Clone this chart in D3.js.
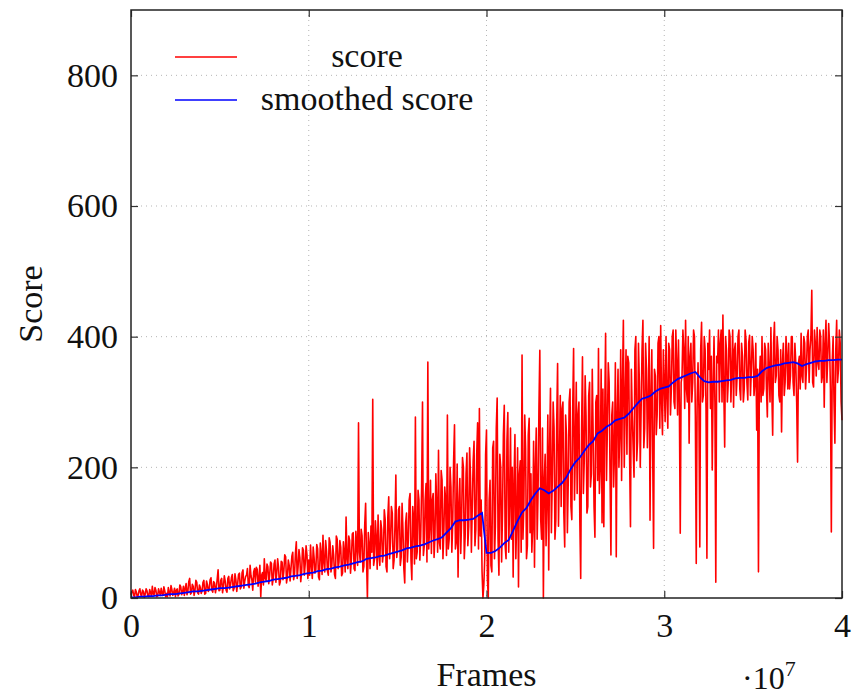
<!DOCTYPE html>
<html>
<head>
<meta charset="utf-8">
<script src="https://cdn.jsdelivr.net/npm/d3@7"></script>
<style>
  body { margin: 0; background: #fff; }
  svg text { font-family: 'Liberation Serif', 'DejaVu Serif', serif; fill: #111; }
  .grid line { stroke: #b5b5b5; stroke-width: 1; stroke-dasharray: 1 4; }
  .axis text { font-family: 'Liberation Serif', 'DejaVu Serif', serif; font-size: 34px; fill: #111; }
  .axis line { stroke: #333; stroke-width: 1.2; }
</style>
</head>
<body>
<div id="chart"></div>
<script>
const WIDTH = 853;
const HEIGHT = 699;
const LEFT = 131;
const RIGHT = 842;
const TOP = 10;
const BOTTOM = 598;

// raw score, one sample every 50k frames
const FRAME_STEP = 5e4;
const scoreValues = [
  5,10, 12,4, 2,13, 9,2, 4,11, 14,5, 3,12, 10,1, 6,14, 11,3,
  2,13, 8,3, 18,6, 5,16, 12,2, 3,14, 9,4, 15,7, 4,17, 11,2,
  7,2, 16,8, 3,19, 13,4, 8,15, 2,12, 14,3, 6,20, 17,5, 9,18,
  4,15, 22,5, 10,25, 30,6, 8,21, 18,4, 12,27, 24,8, 6,20, 16,7,
  11,24, 27,6, 7,26, 20,10, 14,28, 31,12, 9,25, 23,8, 16,29, 43,11,
  12,27, 30,8, 18,34, 26,12, 9,30, 33,14, 20,31, 36,11, 15,37, 28,10,
  22,36, 38,14, 17,39, 43,15, 26,33, 35,45, 19,16, 50,34, 28,12, 40,45,
  24,47, 44,18, 31,50, 2,35, 39,20, 60,30, 27,52, 48,22, 35,55, 53,20,
  30,52, 58,24, 38,60, 47,20, 25,56, 55,28, 42,66, 63,23, 33,58, 50,26,
  45,64, 70,28, 36,68, 86,30, 48,74, 62,25, 40,77, 73,35, 52,80, 66,30,
  58,35, 81,50, 30,78, 62,38, 44,82, 75,32, 28,84, 68,36, 96,55, 40,88,
  72,42, 35,92, 85,40, 50,80, 66,36, 30,95, 90,45, 55,88, 78,34, 38,86,
  70,40, 124,60, 45,95, 88,38, 60,98, 100,45, 42,102, 80,50, 268,70, 55,105,
  95,40, 48,112, 145,60, 0,100, 82,45, 110,70, 304,50, 60,118, 92,44, 127,65,
  50,118, 105,55, 70,135, 120,48, 40,125, 155,60, 85,140, 130,45, 58,110, 188,62,
  75,135, 140,50, 62,145, 105,45, 23,115, 130,55, 88,150, 160,60, 28,140, 120,52,
  277,60, 70,165, 150,58, 95,170, 300,65, 80,150, 175,55, 361,75, 110,180, 68,150,
  160,62, 95,190, 140,70, 226,85, 75,195, 180,60, 100,170, 150,65, 280,75, 90,200,
  170,70, 115,210, 265,75, 85,205, 32,140, 183,68, 120,215, 200,60, 95,190, 222,80,
  110,230, 185,70, 140,210, 240,80, 105,220, 268,75, 290,95, 150,40, 0,20, 60,220,
  257,30, 0,150, 180,50, 40,230, 240,60, 110,260, 306,90, 35,220, 200,55, 130,250,
  295,80, 60,240, 284,70, 150,260, 90,200, 32,180, 250,60, 120,230, 17,190, 210,70,
  372,90, 140,280, 230,60, 80,250, 275,100, 190,70, 110,240, 47,200, 260,90, 160,290,
  379,120, 90,260, 0,180, 220,80, 150,280, 43,230, 321,100, 180,300, 260,90, 119,270,
  359,110, 200,310, 140,290, 300,130, 78,280, 250,100, 180,300, 320,140, 120,290, 382,150,
  230,330, 160,280, 300,120, 30,260, 369,160, 210,340, 280,130, 140,310, 330,170, 190,350,
  250,140, 93,300, 310,180, 382,160, 200,350, 115,320, 109,280, 405,180, 260,360, 330,190,
  66,280, 300,170, 220,360, 63,280, 350,200, 250,380, 180,330, 425,200, 300,380, 220,370,
  360,220, 109,350, 280,230, 185,380, 400,210, 240,390, 330,200, 290,380, 425,230, 260,390,
  350,230, 300,400, 119,310, 380,220, 76,350, 340,250, 280,390, 400,260, 417,300, 250,380,
  330,270, 400,310, 260,390, 380,280, 320,400, 410,300, 290,410, 360,280, 395,300, 99,330,
  340,410, 380,290, 425,320, 300,400, 237,370, 390,300, 330,410, 400,280, 53,300, 360,290,
  78,380, 422,300, 310,400, 380,290, 61,390, 350,410, 290,370, 196,320, 400,300, 24,370,
  360,410, 300,390, 410,300, 433,320, 231,400, 380,300, 330,410, 400,300, 350,410, 292,380,
  390,310, 340,400, 410,320, 303,390, 370,300, 320,410, 395,330, 303,390, 402,310, 350,400,
  380,310, 330,390, 257,350, 40,330, 370,300, 400,310, 320,390, 380,320, 277,390, 350,300,
  414,320, 249,390, 422,330, 340,400, 380,310, 300,380, 254,360, 390,310, 330,400, 370,320,
  390,320, 340,400, 400,330, 310,390, 360,300, 208,360, 370,320, 405,340, 330,400, 390,320,
  350,400, 410,330, 380,400, 471,330, 323,410, 390,340, 414,360, 350,410, 400,330, 340,410,
  292,390, 425,330, 370,420, 390,320, 101,360, 400,300, 237,380, 425,330, 350,410, 390,300,
  272
];

// smoothed score, one sample every 250k frames
const SMOOTH_STEP = 2.5e5;
const smoothedValues = [
  1, 1, 2, 2, 3, 3, 4, 4, 5, 6,
  6, 7, 8, 9, 10, 10, 11, 12, 13, 14,
  15, 15, 16, 17, 18, 19, 20, 21, 22, 24,
  25, 26, 28, 29, 30, 31, 33, 34, 35, 37,
  38, 39, 41, 42, 44, 45, 47, 48, 50, 51,
  53, 55, 56, 60, 61, 62, 64, 65, 67, 69,
  71, 73, 76, 77, 79, 80, 82, 85, 88, 90,
  93, 100, 107, 117, 119, 119, 120, 121, 126, 130,
  69, 69, 72, 77, 84, 89, 103, 118, 131, 138,
  150, 160, 168, 165, 160, 164, 170, 176, 185, 198,
  208, 215, 225, 234, 240, 252, 256, 262, 266, 272,
  274, 276, 282, 290, 298, 305, 307, 310, 316, 320,
  322, 324, 330, 335, 338, 341, 344, 346, 338, 332,
  330, 331, 331, 332, 333, 334, 336, 337, 337, 338,
  338, 340, 347, 352, 354, 356, 357, 359, 360, 361,
  359, 355, 358, 360, 362, 363, 363, 364, 364, 365,
  365
];

const xTicks = [0, 1e7, 2e7, 3e7, 4e7];
const yTicks = [0, 200, 400, 600, 800];
const legendLabels = ['score', 'smoothed score'];
const seriesColors = ['red', 'blue'];

let svg = d3.select('#chart').append('svg')
  .attr('width', WIDTH)
  .attr('height', HEIGHT);

let xScale = d3.scaleLinear().domain([0, 4e7]).range([LEFT, RIGHT]);
let yScale = d3.scaleLinear().domain([0, 900]).range([BOTTOM, TOP]);

function drawGrid() {
  let grid = svg.append('g').attr('class', 'grid');
  grid.selectAll('.gx')
    .data(xTicks.slice(1, -1))
    .enter().append('line')
    .attr('x1', (d) => xScale(d)).attr('x2', (d) => xScale(d))
    .attr('y1', TOP).attr('y2', BOTTOM);
  grid.selectAll('.gy')
    .data(yTicks.slice(1))
    .enter().append('line')
    .attr('x1', LEFT).attr('x2', RIGHT)
    .attr('y1', (d) => yScale(d)).attr('y2', (d) => yScale(d));
}

function drawLines() {
  let scoreLine = d3.line()
    .x((d, i) => xScale(i * FRAME_STEP))
    .y((d) => yScale(d));
  let smoothLine = d3.line()
    .x((d, i) => xScale(i * SMOOTH_STEP))
    .y((d) => yScale(d));

  svg.append('path')
    .datum(scoreValues)
    .attr('d', scoreLine)
    .attr('fill', 'none')
    .attr('stroke', seriesColors[0])
    .attr('stroke-width', 1.6)
    .attr('stroke-linejoin', 'round');

  svg.append('path')
    .datum(smoothedValues)
    .attr('d', smoothLine)
    .attr('fill', 'none')
    .attr('stroke', seriesColors[1])
    .attr('stroke-width', 1.8);
}

function drawAxes() {
  let fmtX = (d) => d / 1e7;
  let bottom = svg.append('g').attr('class', 'axis')
    .attr('transform', `translate(0, ${BOTTOM})`)
    .call(d3.axisBottom(xScale).tickValues(xTicks).tickFormat(fmtX)
      .tickSizeInner(-7).tickSizeOuter(0).tickPadding(15));
  let top = svg.append('g').attr('class', 'axis')
    .attr('transform', `translate(0, ${TOP})`)
    .call(d3.axisTop(xScale).tickValues(xTicks).tickFormat('')
      .tickSizeInner(-7).tickSizeOuter(0));
  let left = svg.append('g').attr('class', 'axis')
    .attr('transform', `translate(${LEFT}, 0)`)
    .call(d3.axisLeft(yScale).tickValues(yTicks).tickFormat(d3.format('d'))
      .tickSizeInner(-7).tickSizeOuter(0).tickPadding(13));
  let right = svg.append('g').attr('class', 'axis')
    .attr('transform', `translate(${RIGHT}, 0)`)
    .call(d3.axisRight(yScale).tickValues(yTicks).tickFormat('')
      .tickSizeInner(-7).tickSizeOuter(0));

  [bottom, top, left, right].forEach((g) => g.select('.domain').remove());

  svg.append('rect')
    .attr('x', LEFT).attr('y', TOP)
    .attr('width', RIGHT - LEFT).attr('height', BOTTOM - TOP)
    .attr('fill', 'none')
    .attr('stroke', '#222')
    .attr('stroke-width', 1.5);

  svg.append('text')
    .attr('x', (LEFT + RIGHT) / 2)
    .attr('y', 686)
    .attr('text-anchor', 'middle')
    .style('font-size', '34px')
    .text('Frames');

  svg.append('text')
    .attr('transform', `translate(42, ${(TOP + BOTTOM) / 2}) rotate(-90)`)
    .attr('text-anchor', 'middle')
    .style('font-size', '34px')
    .text('Score');

  let mult = svg.append('text')
    .attr('x', 742)
    .attr('y', 689)
    .style('font-size', '32px');
  mult.append('tspan').text('\u00b710');
  mult.append('tspan').attr('dy', -13).style('font-size', '22px').text('7');
}

function drawLegend() {
  let rows = [57, 100];
  let legend = svg.append('g');
  legendLabels.forEach((label, i) => {
    legend.append('line')
      .attr('x1', 175).attr('x2', 237)
      .attr('y1', rows[i]).attr('y2', rows[i])
      .attr('stroke', seriesColors[i])
      .attr('stroke-width', 1.6);
    legend.append('text')
      .attr('x', 367)
      .attr('y', rows[i] + 10)
      .attr('text-anchor', 'middle')
      .style('font-size', '34px')
      .text(label);
  });
}

drawGrid();
drawLines();
drawAxes();
drawLegend();
</script>
</body>
</html>
